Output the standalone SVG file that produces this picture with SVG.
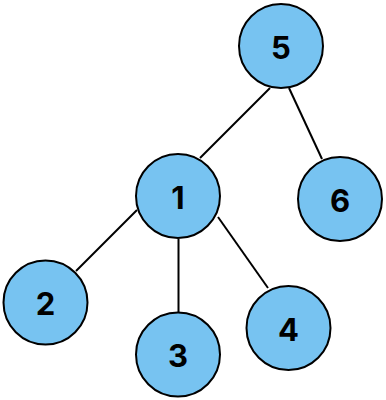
<svg xmlns="http://www.w3.org/2000/svg" width="386" height="400" viewBox="0 0 386 400">
<style>
.n circle{fill:#77c3f1;stroke:#000;stroke-width:2}
.n text{font-family:Inter,"Liberation Sans",sans-serif;font-weight:bold;font-size:31px;fill:#000;text-anchor:middle;dominant-baseline:central}
.e line{stroke:#000;stroke-width:2}
</style>
<rect width="386" height="400" fill="#fff"/>
<g id="edges" class="e">
<line x1="270" y1="88" x2="200" y2="158"/>
<line x1="289" y1="88" x2="322" y2="159"/>
<line x1="137" y1="210" x2="76" y2="271"/>
<line x1="178.5" y1="239" x2="178.5" y2="312"/>
<line x1="218" y1="217" x2="268" y2="288"/>
</g>
<g id="node5" class="n"><circle cx="281" cy="46" r="42"/><text x="281" y="47">5</text></g>
<g id="node1" class="n"><circle cx="178" cy="196" r="42"/><text x="178" y="197">1</text></g>
<g id="node6" class="n"><circle cx="340" cy="199" r="42"/><text x="340" y="200">6</text></g>
<g id="node2" class="n"><circle cx="45.5" cy="302.5" r="42"/><text x="45.5" y="303.5">2</text></g>
<g id="node3" class="n"><circle cx="178" cy="354.5" r="42"/><text x="178" y="355.5">3</text></g>
<g id="node4" class="n"><circle cx="288.5" cy="328" r="42"/><text x="288.5" y="329">4</text></g>
</svg>
